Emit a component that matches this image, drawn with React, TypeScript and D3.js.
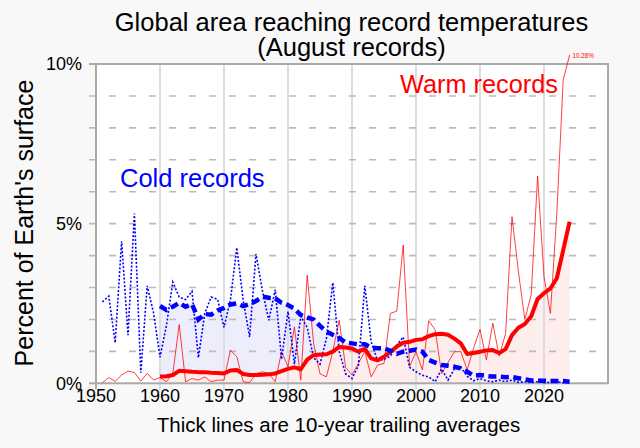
import React from 'react';
import * as d3 from 'd3';

const firstYear = 1951;
const avgFirstYear = 1960;

const warmYearly = [
  0.02, 0.18, 0.06, 0.26, 0.38, 0.34, 0.07, 0.31, 0.10, 0.18,
  0.05, 0.30, 1.84, 0.05, 0.15, 0.10, 0.20, 0.05, 0.10, 0.10,
  1.04, 0.83, 0.05, 0.02, 0.30, 0.36, 0.30, 0.05, 0.99, 0.52,
  1.77, 0.10, 3.39, 1.25, 0.30, 0.20, 1.00, 1.98, 0.50, 0.26,
  0.62, 1.00, 0.20, 0.57, 0.62, 2.19, 2.26, 4.33, 0.52, 0.99,
  0.42, 1.96, 1.67, 0.30, 0.65, 0.99, 0.99, 0.42, 1.10, 1.69,
  0.73, 1.88, 0.85, 1.56, 5.22, 3.50, 2.00, 2.77, 6.49, 3.34,
  2.19, 5.30, 9.50, 10.28,
];

const coldYearly = [
  2.55, 2.73, 1.27, 4.45, 1.51, 5.32, 0.33, 3.05, 2.20, 0.82,
  1.80, 3.17, 2.70, 2.62, 2.88, 0.80, 2.20, 2.70, 2.63, 1.75,
  2.60, 4.25, 2.60, 1.45, 4.05, 2.90, 1.97, 2.93, 0.75, 2.25,
  0.60, 2.10, 1.75, 0.80, 0.60, 1.40, 3.15, 1.00, 0.30, 0.15,
  0.55, 3.05, 1.30, 0.70, 0.75, 0.85, 1.20, 1.45, 0.50, 0.36,
  0.25, 0.20, 0.05, 0.45, 0.10, 0.45, 0.50, 0.22, 0.08, 0.15,
  0.08, 0.05, 0.10, 0.05, 0.10, 0.03, 0.05, 0.02, 0.05, 0.02,
  0.03, 0.05, 0.02, 0.05,
];

const warmAvg = [
  0.21, 0.22, 0.26, 0.39, 0.38, 0.36, 0.35, 0.35, 0.33, 0.32,
  0.31, 0.40, 0.42, 0.29, 0.26, 0.26, 0.27, 0.28, 0.31, 0.38,
  0.45, 0.50, 0.44, 0.74, 0.88, 0.90, 0.91, 0.99, 1.14, 1.12,
  1.09, 0.99, 1.08, 0.78, 0.72, 0.83, 0.99, 1.15, 1.27, 1.30,
  1.36, 1.38, 1.48, 1.54, 1.55, 1.52, 1.40, 1.25, 0.92, 0.95,
  0.99, 1.03, 1.04, 0.95, 1.07, 1.51, 1.74, 1.86, 2.10, 2.64,
  2.82, 2.97, 3.29, 4.17, 5.06,
];

const coldAvg = [
  2.42, 2.30, 2.40, 2.52, 2.40, 2.48, 2.00, 2.17, 2.15, 2.28,
  2.36, 2.47, 2.50, 2.42, 2.48, 2.58, 2.71, 2.68, 2.66, 2.52,
  2.45, 2.34, 2.14, 2.06, 2.00, 1.80, 1.62, 1.52, 1.42, 1.28,
  1.25, 1.22, 1.22, 1.12, 1.10, 1.10, 1.02, 0.92, 0.99, 1.02,
  1.06, 0.99, 0.73, 0.65, 0.57, 0.55, 0.52, 0.47, 0.36, 0.24,
  0.26, 0.23, 0.21, 0.21, 0.19, 0.20, 0.16, 0.12, 0.09, 0.08,
  0.08, 0.07, 0.07, 0.07, 0.05,
];

const xTicks = [1950, 1960, 1970, 1980, 1990, 2000, 2010, 2020];
const yLabelTicks = [0, 5, 10];
const yGridTicks = [1, 2, 3, 4, 5, 6, 7, 8, 9];
const lastLabel = '10.28%';

const FONT = '"Liberation Sans", Arial, sans-serif';

export default function App() {
  const W = 640, H = 448;
  const left = 96, right = 608, top = 64, bottom = 383.3;
  const x = d3.scaleLinear().domain([1950, 2030]).range([left, right]);
  const y = d3.scaleLinear().domain([0, 10]).range([bottom, top]);

  const yearly = (arr: number[]) => arr.map((v, i) => [firstYear + i, v] as [number, number]);
  const avg = (arr: number[]) => arr.map((v, i) => [avgFirstYear + i, v] as [number, number]);

  const line = d3.line<[number, number]>().x(d => x(d[0])).y(d => y(d[1]));
  const area = d3.area<[number, number]>().x(d => x(d[0])).y0(y(0)).y1(d => y(d[1]));

  const warmY = yearly(warmYearly);
  const coldY = yearly(coldYearly);
  const warmA = avg(warmAvg);
  const coldA = avg(coldAvg);
  const lastWarm = warmY[warmY.length - 1];

  return (
    <svg width={W} height={H} style={{ position: 'absolute', left: 0, top: 0, fontFamily: FONT }}>
      <rect x={0} y={0} width={W} height={H} fill="#f8f8f8" />
      <rect x={left} y={top} width={right - left} height={bottom - top} fill="#ffffff" />

      {/* fills */}
      <path d={area(coldA) || ''} fill="#ededfc" />
      <path d={area(warmA) || ''} fill="#fdeded" />

      {/* vertical grid */}
      {xTicks.filter(t => t > 1950).map(t => (
        <line key={t} x1={x(t)} x2={x(t)} y1={top} y2={bottom + 6} stroke="#dddddd" strokeWidth={2} />
      ))}
      {/* horizontal dashed grid */}
      {yGridTicks.map(t => (
        <line key={t} x1={left - 7} x2={right - 8} y1={y(t)} y2={y(t)} stroke="#bbbbbb" strokeWidth={1.6} strokeDasharray="7,13" />
      ))}

      {/* frame */}
      <rect x={left} y={top} width={right - left} height={bottom - top} fill="none" stroke="#aaaaaa" strokeWidth={2} />
      <line x1={left} x2={left} y1={bottom} y2={bottom + 6} stroke="#aaaaaa" strokeWidth={2} />
      <line x1={left - 7} x2={left} y1={y(0)} y2={y(0)} stroke="#aaaaaa" strokeWidth={2} />
      <line x1={left - 7} x2={left} y1={y(10)} y2={y(10)} stroke="#aaaaaa" strokeWidth={2} />

      {/* data lines */}
      <path d={line(warmY) || ''} fill="none" stroke="#ff0000" strokeOpacity={0.75} strokeWidth={1} strokeLinejoin="round" />
      <path d={line(coldY) || ''} fill="none" stroke="#0000ff" strokeWidth={1.6} strokeDasharray="2,1.8" />
      <path d={line(warmA) || ''} fill="none" stroke="#ff0000" strokeWidth={4} strokeLinejoin="round" />
      <path d={line(coldA) || ''} fill="none" stroke="#0000ff" strokeWidth={4.5} strokeDasharray="8,4.5" />

      <text x={x(lastWarm[0]) + 3} y={57.5} fontSize={6.3} fill="#ff0000">{lastLabel}</text>

      {/* axis labels */}
      {yLabelTicks.map(t => (
        <text key={t} x={82} y={y(t) + 6.4} fontSize={18} textAnchor="end" fill="#000">{t}%</text>
      ))}
      {xTicks.map(t => (
        <text key={t} x={x(t)} y={402} fontSize={18} textAnchor="middle" fill="#000">{t}</text>
      ))}

      <text x={33.3} y={223} fontSize={25} textAnchor="middle" transform="rotate(-90 33.3 223)" fill="#000">Percent of Earth's surface</text>
      <text x={338.5} y={432} fontSize={20.5} textAnchor="middle" fill="#000">Thick lines are 10-year trailing averages</text>

      <text x={351.5} y={30.5} fontSize={25.5} textAnchor="middle" fill="#000">Global area reaching record temperatures</text>
      <text x={351.5} y={56} fontSize={25.5} textAnchor="middle" fill="#000">(August records)</text>

      <text x={400} y={93} fontSize={25.3} fill="#ff0000">Warm records</text>
      <text x={120} y={187} fontSize={25.5} fill="#0000ff">Cold records</text>
    </svg>
  );
}
